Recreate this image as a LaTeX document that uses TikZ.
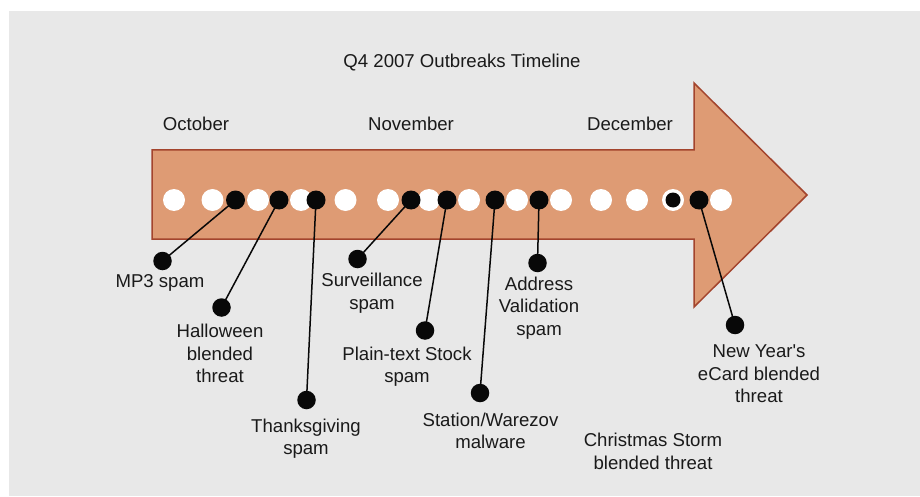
\documentclass[tikz,border=0pt]{standalone}
\usepackage{fontspec}
\setmainfont{Liberation Sans}[Ligatures=TeXOff]
\definecolor{bg}{RGB}{232,232,232}
\definecolor{arrowfill}{RGB}{222,155,116}
\definecolor{arrowline}{RGB}{163,68,45}
\definecolor{ink}{RGB}{26,26,26}
\definecolor{dotblack}{RGB}{8,8,8}
\tikzset{
  wdot/.style={circle,fill=white,inner sep=0pt,minimum size=22pt},
  bdot/.style={circle,fill=dotblack,inner sep=0pt,minimum size=19pt},
  idot/.style={circle,fill=dotblack,inner sep=0pt,minimum size=15pt},
  ldot/.style={circle,fill=dotblack,inner sep=0pt,minimum size=18.5pt},
  lbl/.style={align=center,font=\fontsize{18.6}{22.5}\selectfont,text=ink,inner sep=0pt},
  conn/.style={line width=1.5pt,dotblack},
}
\begin{document}
\begin{tikzpicture}[x=1pt,y=-1pt]
\useasboundingbox (0,0) rectangle (920,497);
\fill[white] (0,0) rectangle (920,497);
\fill[bg] (9,11) rectangle (920,496);
% arrow
\draw[fill=arrowfill,draw=arrowline,line width=1.5pt,line join=miter]
  (152,150) -- (694,150) -- (694,83) -- (807,195) -- (694,307) -- (694,239) -- (152,239) -- cycle;
% texts
\node[lbl] (title) at (462,63) {Q4 2007 Outbreaks Timeline};
\node[lbl] (oct) at (196,124) {October};
\node[lbl] (nov) at (411,124) {November};
\node[lbl] (dec) at (630,124) {December};
% white dots
\foreach \x/\n in {174/w1,212.5/w2,258/w3,301/w4,345.5/w5,388/w6,429/w7,469/w8,517/w9,561/w10,601/w11,637/w12,673/w13,721/w14}
  \node[wdot] (\n) at (\x,200) {};
\node[idot] (i1) at (673,200) {};
% black dots on timeline
\node[bdot] (b1) at (235.5,200) {};
\node[bdot] (b2) at (279,200) {};
\node[bdot] (b3) at (316,200) {};
\node[bdot] (b4) at (411,200) {};
\node[bdot] (b5) at (447,200) {};
\node[bdot] (b6) at (495,200) {};
\node[bdot] (b7) at (539,200) {};
\node[bdot] (b8) at (699,200) {};
% label dots
\node[ldot] (l1) at (162.5,261) {};
\node[ldot] (l2) at (221.5,307.5) {};
\node[ldot] (l3) at (306.5,400) {};
\node[ldot] (l4) at (357.5,259) {};
\node[ldot] (l5) at (425,330.5) {};
\node[ldot] (l6) at (480,393) {};
\node[ldot] (l7) at (537.5,263) {};
\node[ldot] (l8) at (735,325) {};
% connectors
\draw[conn] (b1.center) -- (l1.center);
\draw[conn] (b2.center) -- (l2.center);
\draw[conn] (b3.center) -- (l3.center);
\draw[conn] (b4.center) -- (l4.center);
\draw[conn] (b5.center) -- (l5.center);
\draw[conn] (b6.center) -- (l6.center);
\draw[conn] (b7.center) -- (l7.center);
\draw[conn] (b8.center) -- (l8.center);
% labels
\node[lbl] (t1) at (160,283) {MP3 spam};
\node[lbl] (t2) at (220,353.7) {Halloween\\blended\\threat};
\node[lbl] (t3) at (306,438.5) {Thanksgiving\\spam};
\node[lbl] (t4) at (372,293) {Surveillance\\spam};
\node[lbl] (t5) at (407,366.5) {Plain-text Stock\\spam};
\node[lbl] (t6) at (490.5,431) {Station/Warezov\\malware};
\node[lbl] (t7) at (539,308) {Address\\Validation\\spam};
\node[lbl] (t8) at (759,374) {New Year's\\eCard blended\\threat};
\node[lbl] (t9) at (653,451.5) {Christmas Storm\\blended threat};
\end{tikzpicture}
\end{document}
